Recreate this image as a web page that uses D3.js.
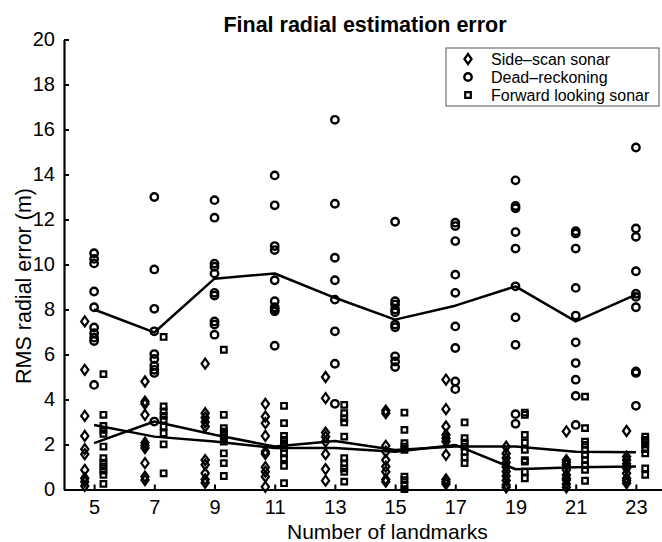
<!DOCTYPE html>
<html>
<head>
<meta charset="utf-8">
<script src="https://cdn.jsdelivr.net/npm/d3@7"></script>
<style>
  html, body { margin: 0; padding: 0; background: #fff; }
  svg { display: block; font-family: "Liberation Sans", Arial, Helvetica, sans-serif; }
</style>
</head>
<body>
<svg id="chart" width="662" height="542"></svg>
<script>
// ---------------- data ----------------
const landmarks = [5, 7, 9, 11, 13, 15, 17, 19, 21, 23];
const yTicks = [0, 2, 4, 6, 8, 10, 12, 14, 16, 18, 20];
const seriesNames = ["Side\u2013scan sonar", "Dead\u2013reckoning", "Forward looking sonar"];

const sideScan = [
  [7.47, 5.32, 3.27, 2.38, 1.79, 1.57, 0.87, 0.5, 0.35, 0.16],
  [4.8, 3.91, 3.81, 3.32, 2.08, 1.94, 1.84, 1.17, 0.57, 0.42],
  [5.59, 3.39, 3.2, 3.0, 2.8, 1.31, 1.1, 0.72, 0.45, 0.3],
  [3.81, 3.24, 2.95, 2.38, 1.68, 1.58, 0.99, 0.79, 0.57, 0.12],
  [5.0, 4.06, 2.53, 2.35, 2.13, 1.57, 0.91, 0.39],
  [3.51, 3.39, 1.94, 1.68, 1.31, 1.02, 0.79, 0.45, 0.35],
  [4.88, 3.57, 2.8, 2.43, 2.28, 2.13, 1.54, 0.45, 0.35, 0.25],
  [1.9, 1.6, 1.4, 1.2, 1.0, 0.8, 0.6, 0.4, 0.2, 0.1],
  [2.58, 1.31, 1.2, 1.09, 0.87, 0.65, 0.5, 0.42, 0.25, 0.1],
  [2.6, 1.46, 1.31, 1.14, 1.0, 0.94, 0.72, 0.5, 0.4, 0.28]
];
const deadReckoning = [
  [10.5, 10.25, 10.05, 8.8, 8.1, 7.2, 6.95, 6.75, 6.6, 4.65],
  [13.0, 9.78, 8.03, 7.03, 6.02, 5.8, 5.5, 5.32, 5.18, 3.02],
  [12.86, 12.08, 10.04, 9.9, 9.6, 8.74, 8.62, 7.47, 7.33, 6.88],
  [13.96, 12.63, 10.82, 10.64, 9.3, 8.37, 8.1, 8.0, 7.92, 6.39],
  [16.43, 12.7, 10.3, 9.3, 8.44, 7.03, 5.59, 3.81],
  [11.9, 8.37, 8.22, 8.0, 7.88, 7.33, 7.21, 5.92, 5.69, 5.44],
  [11.86, 11.71, 11.04, 9.55, 8.74, 7.25, 6.29, 4.8, 4.46],
  [13.74, 12.6, 12.5, 11.44, 10.71, 9.03, 7.65, 6.43, 3.35, 2.92],
  [11.48, 11.38, 10.71, 8.96, 7.73, 6.54, 5.62, 4.88, 4.16, 2.87],
  [15.2, 11.6, 11.23, 9.7, 8.7, 8.56, 8.1, 5.25, 5.18, 3.72]
];
const forwardLooking = [
  [5.13, 3.32, 2.83, 2.65, 2.47, 1.91, 1.39, 1.19, 1.02, 0.84, 0.65, 0.25],
  [6.78, 3.69, 3.47, 3.27, 3.1, 2.8, 2.5, 2.01, 0.72],
  [6.21, 3.32, 2.73, 2.57, 2.43, 2.28, 2.13, 1.61, 1.17, 0.6],
  [3.72, 2.95, 2.38, 2.2, 2.03, 1.84, 1.61, 1.39, 1.05, 0.28],
  [3.76, 3.39, 3.17, 2.98, 2.35, 1.39, 1.17, 0.94, 0.79, 0.35],
  [3.42, 2.65, 2.06, 1.91, 1.76, 0.57, 0.42, 0.2, 0.02],
  [2.98, 2.28, 2.08, 1.91, 1.68, 1.43, 1.17],
  [3.42, 3.32, 2.43, 2.08, 1.76, 1.31, 1.24, 0.79, 0.5],
  [4.13, 2.73, 2.13, 1.98, 1.76, 1.54, 1.31, 1.09, 0.87, 0.39],
  [2.35, 2.2, 2.1, 2.0, 1.8, 1.61, 0.94, 0.65]
];
// mean curves
const sideScanMean = [2.87, 2.35, 2.13, 1.84, 1.84, 1.68, 1.98, 0.9, 0.99, 1.02];
const deadReckoningMean = [8.0, 6.98, 9.37, 9.6, 8.52, 7.55, 8.17, 9.03, 7.47, 8.66];
const forwardLookingMean = [2.06, 3.02, 2.43, 1.91, 2.16, 1.76, 1.91, 1.91, 1.68, 1.66];

// ---------------- chart ----------------
const svg = d3.select("#chart");
const x = d3.scaleLinear().domain([4, 24]).range([64, 666]);
const y = d3.scaleLinear().domain([0, 20]).range([489.5, 39.5]);
const offset = 0.31; // horizontal shift of the side-scan / FLS columns (in landmark units)

const diamondPath = "M0,-5L3.6,0L0,5L-3.6,0Z";
const squarePath = "M-2.8,-2.8H2.8V2.8H-2.8Z";

const series = [
  { name: seriesNames[0], data: sideScan, mean: sideScanMean, dx: -offset, shape: "diamond" },
  { name: seriesNames[1], data: deadReckoning, mean: deadReckoningMean, dx: 0, shape: "circle" },
  { name: seriesNames[2], data: forwardLooking, mean: forwardLookingMean, dx: offset, shape: "square" }
];

function drawMarker(g, shape) {
  if (shape === "circle") {
    g.append("circle").attr("r", 3.7).attr("fill", "none").attr("stroke", "#000").attr("stroke-width", 2.4);
  } else if (shape === "diamond") {
    g.append("path").attr("d", diamondPath).attr("fill", "none").attr("stroke", "#000").attr("stroke-width", 2.2);
  } else {
    g.append("path").attr("d", squarePath).attr("fill", "none").attr("stroke", "#000").attr("stroke-width", 2.2);
  }
}

// points
series.forEach(s => {
  const pts = [];
  s.data.forEach((vals, i) => vals.forEach(v => pts.push({ n: landmarks[i] + s.dx, v })));
  const g = svg.append("g").attr("class", "pts-" + s.shape);
  g.selectAll("g").data(pts).enter().append("g")
    .attr("transform", d => `translate(${x(d.n)},${y(d.v)})`)
    .each(function () { drawMarker(d3.select(this), s.shape); });
});

// mean lines
const line = d3.line().x((d, i) => x(landmarks[i])).y(d => y(d));
series.forEach(s => {
  svg.append("path").datum(s.mean).attr("d", line)
    .attr("fill", "none").attr("stroke", "#000").attr("stroke-width", 2.5)
    .attr("stroke-linejoin", "round");
});

// axes
const xAxis = d3.axisBottom(x).tickValues(landmarks).tickSizeInner(-5).tickSizeOuter(0).tickPadding(10);
const yAxis = d3.axisLeft(y).tickValues(yTicks).tickSizeInner(-5).tickSizeOuter(0).tickPadding(9);

const gx = svg.append("g").attr("transform", `translate(0,${y(0)})`).call(xAxis);
const gy = svg.append("g").attr("transform", `translate(${x(4)},0)`).call(yAxis);
[gx, gy].forEach(g => {
  g.select(".domain").attr("stroke", "#000").attr("stroke-width", 2.2);
  g.selectAll(".tick line").attr("stroke", "#000").attr("stroke-width", 2);
  g.selectAll(".tick text").attr("fill", "#000")
    .style("font-family", '"Liberation Sans", Arial, sans-serif').style("font-size", "20px");
});

// titles
svg.append("text").attr("x", 365).attr("y", 32).attr("text-anchor", "middle")
  .style("font-size", "21.5px").style("font-weight", "bold").text("Final radial estimation error");
svg.append("text").attr("x", 287).attr("y", 539).attr("text-anchor", "start")
  .style("font-size", "21px").text("Number of landmarks");
svg.append("text").attr("transform", "translate(31,286) rotate(-90)").attr("text-anchor", "middle")
  .style("font-size", "21.5px").text("RMS radial error (m)");

// legend
const lg = svg.append("g");
lg.append("rect").attr("x", 446).attr("y", 48).attr("width", 213).attr("height", 58)
  .attr("fill", "#fff").attr("stroke", "#555").attr("stroke-width", 1);
series.forEach((s, i) => {
  const cy = 59 + i * 18;
  const m = lg.append("g").attr("transform", `translate(468,${cy})`);
  drawMarker(m, s.shape);
  lg.append("text").attr("x", 491).attr("y", cy + 5.5).style("font-size", "16px").text(s.name);
});
</script>
</body>
</html>
